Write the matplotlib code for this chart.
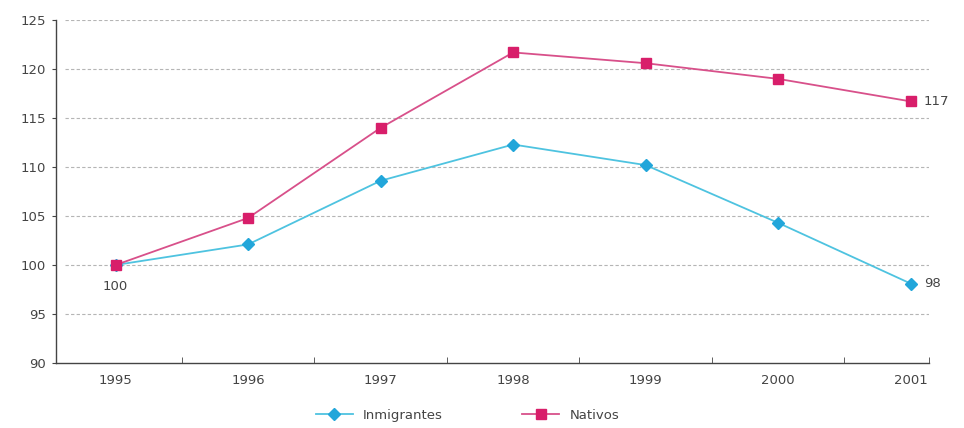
import matplotlib
matplotlib.use("Agg")
import matplotlib.pyplot as plt
from matplotlib.lines import Line2D

years = ["1995", "1996", "1997", "1998", "1999", "2000", "2001"]
inmigrantes = [100.0, 102.1, 108.6, 112.3, 110.2, 104.3, 98.1]
nativos = [100.0, 104.8, 114.0, 121.7, 120.6, 119.0, 116.7]
end_labels = {"inmigrantes": "98", "nativos": "117", "start": "100"}

pink = "#D81E6A"
pink_line = "#D8508A"
cyan = "#22A6DA"
cyan_line = "#4EC3E0"

fig = plt.figure(figsize=(9.64, 4.28), dpi=100)
ax = fig.add_axes([0.058, 0.152, 0.906, 0.801])

x = list(range(len(years)))
ax.plot(x, inmigrantes, color=cyan_line, lw=1.3, marker="D", ms=6.5,
        mfc=cyan, mec=cyan, zorder=3, label="Inmigrantes")
ax.plot(x, nativos, color=pink_line, lw=1.3, marker="s", ms=7,
        mfc=pink, mec=pink, zorder=4, label="Nativos")

ax.set_ylim(90, 125)
ax.set_yticks(range(90, 126, 5))
ax.set_xlim(-0.45, 6.14)
ax.set_xticks(x)
ax.set_xticklabels(years)
ax.set_xticks([i + 0.5 for i in range(6)] + [6.14], minor=True)
ax.tick_params(axis="x", which="major", length=0, pad=8)
ax.tick_params(axis="x", which="minor", length=4, direction="in", color="#444444")
ax.tick_params(axis="y", length=3, color="#444444", pad=4)
ax.tick_params(labelsize=9.5, labelcolor="#444444")

for v in range(95, 126, 5):
    ax.axhline(v, xmin=0.01, color="#b5b5b5", lw=0.8, ls=(0, (3, 2)), zorder=1)

for s in ["top", "right"]:
    ax.spines[s].set_visible(False)
for s in ["left", "bottom"]:
    ax.spines[s].set_color("#444444")
    ax.spines[s].set_linewidth(1.0)

ax.text(0, inmigrantes[0] - 2.2, end_labels["start"], ha="center", va="center",
        fontsize=9.5, color="#444444")
ax.text(6 + 0.1, nativos[-1], end_labels["nativos"], ha="left", va="center",
        fontsize=9.5, color="#444444")
ax.text(6 + 0.1, inmigrantes[-1], end_labels["inmigrantes"], ha="left", va="center",
        fontsize=9.5, color="#444444")

handles = [
    Line2D([], [], color=cyan_line, lw=1.3, marker="D", ms=6.5, mfc=cyan, mec=cyan),
    Line2D([], [], color=pink_line, lw=1.3, marker="s", ms=7, mfc=pink, mec=pink),
]
fig.legend(handles, ["Inmigrantes", "Nativos"], loc="center", bbox_to_anchor=(0.485, 0.03),
           ncol=2, frameon=False, fontsize=9.5, handlelength=2.8, columnspacing=6,
           labelcolor="#444444")

fig.savefig("out.png", dpi=100, facecolor="white")
